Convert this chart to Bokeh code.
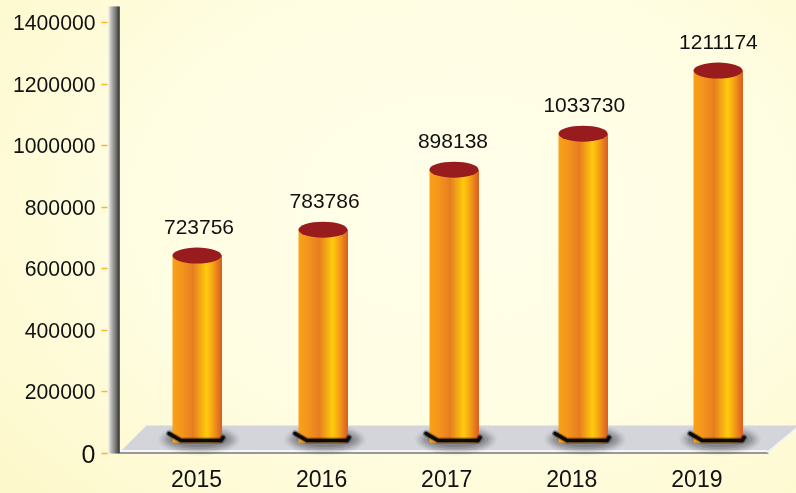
from bokeh.plotting import figure
from bokeh.embed import file_html
from bokeh.resources import INLINE
from bokeh.models import FixedTicker, LinearAxis, ColumnDataSource
from bokeh.core.properties import value
import numpy as np

# ---- data ----
years = ["2015", "2016", "2017", "2018", "2019"]
shown_values = ["723756", "783786", "898138", "1033730", "1211174"]
drawn_tops = [643000, 727000, 922000, 1039000, 1244000]   # height of each cylinder read on the axis
bar_drift = [0.004, 0.011, 0.058, 0.090, 0.169]            # 3D drift of the bars from their tick
label_drift = [0.02, 0.024, 0.05, 0.10, 0.172]
y_ticks = [200000, 400000, 600000, 800000, 1000000, 1200000, 1400000]

W, H = 796, 493
LEFT = 107
ZERO_PX = 453
Y_MAX = 1471500
X0_PX, X_STEP = 196, 125.1
FONT = "Liberation Sans"


def dx(px):
    return (np.asarray(px, float) - X0_PX) / X_STEP


def dy(py):
    return (ZERO_PX - np.asarray(py, float)) * Y_MAX / ZERO_PX


def ramp(stops, n):
    pos = [s[0] for s in stops]
    rgb = np.array([[int(s[1][i:i + 2], 16) for i in (1, 3, 5)] for s in stops], float)
    t = np.linspace(0, 1, n)
    out = np.stack([np.interp(t, pos, rgb[:, k]) for k in range(3)], 1).round().astype(int)
    return ["#%02x%02x%02x" % tuple(c) for c in out]


p = figure(width=W, height=H, output_backend="svg", toolbar_location=None,
           x_range=(float(dx(0)), float(dx(W))), y_range=(float(dy(H)), float(dy(0))),
           min_border_left=0, min_border_bottom=0, min_border_top=0, min_border_right=0,
           outline_line_color=None, background_fill_alpha=0, border_fill_alpha=0)
p.styles = {"position": "fixed", "left": "0", "top": "0",
            "background": "radial-gradient(ellipse 75% 85% at 58% 42%, #fffee9 0%, #fffde2 55%, #fdf8cb 100%)"}
p.grid.visible = False

# axes: both sit inside the full-size frame so that no label is clipped
main_axis = p.yaxis[0]
main_axis.fixed_location = float(dx(LEFT))
main_axis.ticker = FixedTicker(ticks=[0] + y_ticks)
main_axis.major_label_overrides = {0: ""}
main_axis.formatter.use_scientific = False
main_axis.axis_line_color = None
main_axis.minor_tick_line_color = None
main_axis.major_tick_in = 0
main_axis.major_tick_out = 6
main_axis.major_tick_line_color = "#fcb62e"
main_axis.major_tick_line_width = 1.5
main_axis.major_label_standoff = 6
main_axis.major_label_text_font = FONT
main_axis.major_label_text_font_size = "21.2px"
main_axis.major_label_text_color = "#111111"
main_axis.major_label_text_align = "right"

p.xaxis.fixed_location = 0
p.xaxis.ticker = FixedTicker(ticks=list(range(len(years))))
p.xaxis.major_label_overrides = {i: y for i, y in enumerate(years)}
p.xaxis.axis_line_color = None
p.xaxis.major_tick_line_color = None
p.xaxis.minor_tick_line_color = None
p.xaxis.major_label_standoff = 10
p.xaxis.major_label_text_font = FONT
p.xaxis.major_label_text_font_size = "23px"
p.xaxis.major_label_text_color = "#111111"

# the zero label is set larger than the others in the reference
zero_axis = LinearAxis(ticker=FixedTicker(ticks=[0]), fixed_location=float(dx(LEFT)),
                       axis_line_color=None, major_tick_line_color=None, minor_tick_line_color=None,
                       major_tick_in=0, major_tick_out=0, major_label_standoff=12,
                       major_label_text_font=FONT, major_label_text_font_size="25px",
                       major_label_text_color="#111111", major_label_text_align="right")
p.add_layout(zero_axis, "left")

# floor
p.patch(dx([119, 146, W, W, 768]), dy([452, 425, 425, 427, 452]), fill_color="#d3d5da", line_color=None)
p.line(dx([119, 767]), dy([450.5, 450.5]), line_color="#f6f6f6", line_width=2)
p.line(dx([119, 768]), dy([452.5, 452.5]), line_color="#96989c", line_width=2)
p.line(dx([767, W]), dy([452, 428]), line_color="#f4f4f4", line_width=2)

# wall
wall = ramp([(0, "#e2e2e6"), (0.25, "#a8a8ac"), (0.65, "#66666a"), (1, "#1c1c1e")], 11)
edges = np.arange(108, 119)
p.quad(left=dx(edges), right=dx(edges + 1.2), top=dy(6), bottom=0, fill_color=wall, line_color=None)

centers = np.arange(len(years)) + np.array(bar_drift)
tops = np.array(drawn_tops, float)
px_centers = X0_PX + centers * X_STEP

# soft shadows under the bars
for w, h, a in [(82, 32, 0.035), (78, 29, 0.04), (74, 26, 0.06), (70, 23, 0.08), (65, 19, 0.10), (58, 15, 0.12)]:
    p.ellipse(x=centers + dx(X0_PX + 2), y=[dy(439)] * len(years), width=w, height=h,
              width_units="screen", height_units="screen",
              fill_color="#000000", fill_alpha=a, line_color=None)

# cylinders, shaded across their width
shade = ramp([(0, "#f9a018"), (0.2, "#f3941c"), (0.42, "#e67d22"), (0.7, "#ffcb0b"), (0.82, "#f6a516"), (1, "#dc6222")], 49)
lefts, rights, ts, cols = [], [], [], []
for c, t in zip(px_centers, tops):
    start = np.floor(c - 24.5 + 0.5)
    for k, col in enumerate(shade):
        l = start + k
        lefts.append(dx(l)); rights.append(dx(l + 1.5)); ts.append(t); cols.append(col)
p.quad(left=lefts, right=rights, top=ts, bottom=dy(442), fill_color=cols, line_color=None)

# dark contact line at the foot
for c in px_centers:
    p.line(dx([c - 28, c - 16, c + 24, c + 26]), dy([433, 440, 440, 437]),
           line_color="#000000", line_alpha=0.35, line_width=6, line_join="round", line_cap="round")
    p.line(dx([c - 28, c - 16, c + 24, c + 26]), dy([433, 440, 440, 437]),
           line_color="#0c0a08", line_width=3.5, line_join="round", line_cap="round")

# caps
p.ellipse(x=centers, y=tops, width=49, height=16, width_units="screen", height_units="screen",
          fill_color="#981b1d", line_color=None)

# value labels
src = ColumnDataSource(dict(x=np.arange(len(years)) + np.array(label_drift), y=tops, t=shown_values))
p.text(x="x", y="y", text="t", source=src, y_offset=-29, text_align="center", text_baseline="middle",
       text_font=value(FONT), text_font_size="21px", text_color="#111111")

open("out.html", "w").write(file_html(p, INLINE))
